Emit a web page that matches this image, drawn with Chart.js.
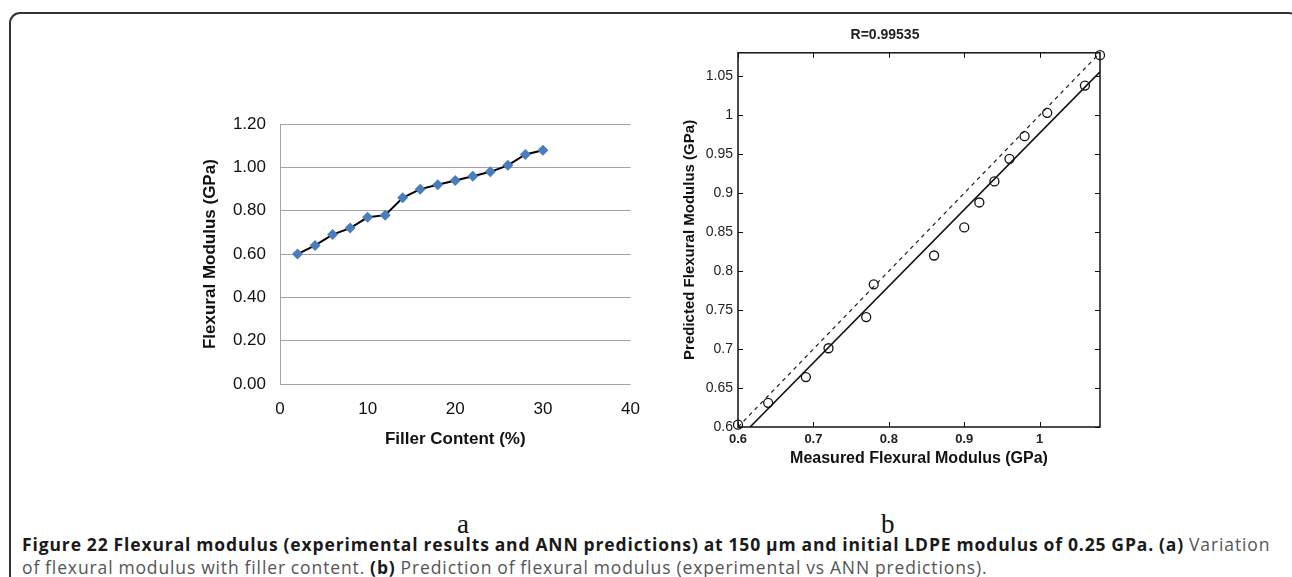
<!DOCTYPE html>
<html>
<head>
<meta charset="utf-8">
<script src="https://cdn.jsdelivr.net/npm/chart.js"></script>
<style>
  body { margin: 0; width: 1292px; height: 577px; background: #fff; position: relative; overflow: hidden; font-family: "Liberation Sans", Arial, sans-serif; }
  #frame { position: absolute; left: 9px; top: 12px; width: 1291px; height: 600px; border: 2px solid #333; border-radius: 11px; box-sizing: border-box; }
  #wrapA { position: absolute; left: 195px; top: 100px; width: 460px; height: 355px; }
  #wrapB { position: absolute; left: 670px; top: 10px; width: 440px; height: 465px; }
  .sub { position: absolute; top: 509px; font-family: "Liberation Serif", "DejaVu Serif", serif; font-size: 27px; color: #111; }
  #caption { position: absolute; left: 22px; top: 533px; font-family: "Open Sans", sans-serif; font-size: 17.5px; letter-spacing: 0.88px; word-spacing: -0.5px; line-height: 23px; color: #555; white-space: nowrap; }
  #caption b { color: #1a1a1a; }
</style>
</head>
<body>
<div id="frame"></div>
<div id="wrapA"><canvas id="chartA" width="460" height="355"></canvas></div>
<div id="wrapB"><canvas id="chartB" width="440" height="465"></canvas></div>
<div class="sub" style="left:457px">a</div>
<div class="sub" style="left:881px">b</div>
<div id="caption"><b>Figure 22 Flexural modulus (experimental results and ANN predictions) at 150 μm and initial LDPE modulus of 0.25 GPa. (a)</b> Variation<br>of flexural modulus with filler content. <b>(b)</b> Prediction of flexural modulus (experimental vs ANN predictions).</div>

<script>
// (a) flexural modulus vs filler content
var fillerContent = [2, 4, 6, 8, 10, 12, 14, 16, 18, 20, 22, 24, 26, 28, 30];
var flexModulus = [0.60, 0.64, 0.69, 0.72, 0.77, 0.78, 0.86, 0.90, 0.92, 0.94, 0.96, 0.98, 1.01, 1.06, 1.08];
var xTicksA = [0, 10, 20, 30, 40];
var yTicksA = [0, 0.2, 0.4, 0.6, 0.8, 1.0, 1.2];

// (b) measured vs predicted (ANN)
var measured = [0.60, 0.64, 0.69, 0.72, 0.77, 0.78, 0.86, 0.90, 0.92, 0.94, 0.96, 0.98, 1.01, 1.06, 1.08];
var predicted = [0.603, 0.631, 0.664, 0.701, 0.741, 0.783, 0.820, 0.856, 0.888, 0.915, 0.944, 0.973, 1.003, 1.038, 1.077];
var idealX = [0.6, 1.08];
var idealY = [0.6, 1.08];
var fitX = [0.616, 1.08];
var fitY = [0.6, 1.0555];
var xTicksB = [0.6, 0.7, 0.8, 0.9, 1];
var xLabelsB = ['0.6', '0.7', '0.8', '0.9', '1'];
var yTicksB = [0.6, 0.65, 0.7, 0.75, 0.8, 0.85, 0.9, 0.95, 1, 1.05];
var yLabelsB = ['0.6', '0.65', '0.7', '0.75', '0.8', '0.85', '0.9', '0.95', '1', '1.05'];

function pts(xs, ys) {
    return xs.map((x, i) => ({x: x, y: ys[i]}));
}

Chart.defaults.animation = false;
Chart.defaults.font.family = '"Liberation Sans", Arial, sans-serif';

new Chart(document.getElementById('chartA'), {
    type: 'scatter',
    data: {
        datasets: [{
            data: pts(fillerContent, flexModulus),
            showLine: true,
            borderColor: '#000',
            borderWidth: 2,
            pointStyle: 'rectRot',
            pointRadius: 5.5,
            pointBackgroundColor: '#4a7ebb',
            pointBorderColor: '#4a7ebb',
            pointBorderWidth: 0
        }]
    },
    options: {
        responsive: false,
        layout: { padding: { top: 20, right: 20, left: 0, bottom: 0 } },
        plugins: { legend: { display: false }, tooltip: { enabled: false } },
        scales: {
            x: {
                type: 'linear', min: 0, max: 40,
                afterBuildTicks: s => { s.ticks = xTicksA.map(v => ({value: v})); },
                afterFit: s => { s.height = 71; },
                grid: { display: false, drawTicks: false },
                border: { display: false },
                ticks: { color: '#111', font: { size: 17 }, padding: 15 },
                title: { display: true, text: 'Filler Content (%)', color: '#111', font: { size: 17, weight: 'bold' }, padding: 5 }
            },
            y: {
                min: 0, max: 1.2,
                afterBuildTicks: s => { s.ticks = yTicksA.map(v => ({value: v})); },
                afterFit: s => { s.width = 85; },
                grid: { color: '#a3a3a3', lineWidth: 1, drawTicks: false },
                border: { display: true, color: '#a3a3a3', width: 1 },
                ticks: { color: '#111', font: { size: 17 }, padding: 14, callback: v => v.toFixed(2) },
                title: { display: true, text: 'Flexural Modulus (GPa)', color: '#111', font: { size: 17, weight: 'bold' }, padding: 5 }
            }
        }
    }
});

// box and inward ticks like the matlab frame
var frameTicks = {
    id: 'frameTicks',
    afterDatasetsDraw(chart) {
        var c = chart.ctx, a = chart.chartArea;
        var sx = chart.scales.x, sy = chart.scales.y;
        c.save();
        c.strokeStyle = '#111';
        c.lineWidth = 1;
        sx.ticks.forEach(t => {
            var p = Math.round(sx.getPixelForValue(t.value)) + 0.5;
            c.beginPath();
            c.moveTo(p, a.bottom); c.lineTo(p, a.bottom - 5);
            c.moveTo(p, a.top); c.lineTo(p, a.top + 5);
            c.stroke();
        });
        sy.ticks.forEach(t => {
            var p = Math.round(sy.getPixelForValue(t.value)) + 0.5;
            c.beginPath();
            c.moveTo(a.left, p); c.lineTo(a.left + 5, p);
            c.moveTo(a.right, p); c.lineTo(a.right - 5, p);
            c.stroke();
        });
        c.lineWidth = 1.5;
        c.strokeRect(a.left, a.top, a.right - a.left, a.bottom - a.top);
        c.restore();
    }
};

new Chart(document.getElementById('chartB'), {
    type: 'scatter',
    data: {
        datasets: [{
            data: pts(measured, predicted),
            pointStyle: 'circle',
            pointRadius: 4.5,
            pointBorderWidth: 1.3,
            pointBorderColor: '#111',
            pointBackgroundColor: 'rgba(0,0,0,0)',
            clip: false,
            order: 0
        }, {
            data: pts(idealX, idealY),
            showLine: true,
            borderColor: '#222',
            borderWidth: 1.2,
            borderDash: [4, 4],
            pointRadius: 0,
            order: 1
        }, {
            data: pts(fitX, fitY),
            showLine: true,
            borderColor: '#111',
            borderWidth: 1.6,
            pointRadius: 0,
            order: 2
        }]
    },
    options: {
        responsive: false,
        layout: { padding: { top: 0, right: 10, left: 0, bottom: 0 } },
        plugins: {
            legend: { display: false },
            tooltip: { enabled: false },
            title: { display: true, text: 'R=0.99535', color: '#222', font: { size: 14, weight: 'bold' }, padding: { top: 17, bottom: 9 } }
        },
        scales: {
            x: {
                type: 'linear', min: 0.6, max: 1.08,
                afterBuildTicks: s => { s.ticks = xTicksB.map(v => ({value: v})); },
                afterFit: s => { s.height = 48; },
                grid: { display: false, drawTicks: false },
                border: { display: false },
                ticks: { color: '#222', font: { size: 13, weight: 'bold' }, padding: 5, callback: (v, i) => xLabelsB[i] },
                title: { display: true, text: 'Measured Flexural Modulus (GPa)', color: '#111', font: { size: 16, weight: 'bold' }, padding: 7 }
            },
            y: {
                min: 0.6, max: 1.08,
                afterBuildTicks: s => { s.ticks = yTicksB.map(v => ({value: v})); },
                afterFit: s => { s.width = 68; },
                grid: { display: false, drawTicks: false },
                border: { display: false },
                ticks: { color: '#222', font: { size: 14 }, padding: 5, callback: (v, i) => yLabelsB[i] },
                title: { display: true, text: 'Predicted Flexural Modulus (GPa)', color: '#111', font: { size: 15, weight: 'bold' }, padding: 11 }
            }
        }
    },
    plugins: [frameTicks]
});
</script>
</body>
</html>
